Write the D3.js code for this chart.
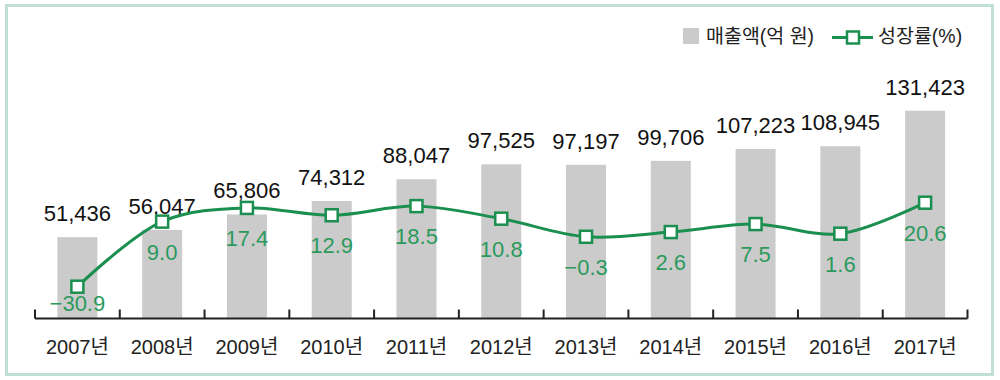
<!DOCTYPE html>
<html>
<head>
<meta charset="utf-8">
<script src="https://cdn.jsdelivr.net/npm/d3@7"></script>
<style>
  body { margin: 0; background: #fff; }
  text { font-family: "Liberation Sans", "Noto Sans CJK KR", sans-serif; }
</style>
</head>
<body>
<div id="chart"></div>
<script>
// data
let years = ["2007년", "2008년", "2009년", "2010년", "2011년", "2012년", "2013년", "2014년", "2015년", "2016년", "2017년"];
let sales = [51436, 56047, 65806, 74312, 88047, 97525, 97197, 99706, 107223, 108945, 131423];
let growth = [-30.9, 9.0, 17.4, 12.9, 18.5, 10.8, -0.3, 2.6, 7.5, 1.6, 20.6];
let legendNames = ["매출액(억 원)", "성장률(%)"];

const green = "#1b8f4f";
const labelGreen = "#2b9a5c";
const barGray = "#cbcbcb";

let svg = d3.select("#chart").append("svg")
    .attr("width", 1000)
    .attr("height", 380);

// outer frame
svg.append("rect")
    .attr("x", 6.5).attr("y", 5.5)
    .attr("width", 986).attr("height", 369)
    .attr("fill", "none")
    .attr("stroke", "#bfe0d2")
    .attr("stroke-width", 3);

let x = d3.scaleBand().domain(years).range([35, 967.5]);
let yBar = d3.scaleLinear().domain([0, 131423]).range([318.5, 110.7]);
let yLine = d3.scaleLinear().domain([-30.9, 20.6]).range([286.7, 202.7]);

// bars
svg.selectAll(".bar").data(sales).enter().append("rect")
    .attr("class", "bar")
    .attr("x", (d, i) => x(years[i]) + x.bandwidth() / 2 - 20)
    .attr("width", 40)
    .attr("y", d => yBar(d))
    .attr("height", d => yBar(0) - yBar(d))
    .attr("fill", barGray);

svg.selectAll(".barLabel").data(sales).enter().append("text")
    .attr("class", "barLabel")
    .attr("x", (d, i) => x(years[i]) + x.bandwidth() / 2)
    .attr("y", d => yBar(d) - 16)
    .attr("text-anchor", "middle")
    .attr("font-size", 22)
    .attr("fill", "#111")
    .text(d => d3.format(",")(d));

// x axis
let axis = svg.append("g").attr("transform", "translate(0,318.5)");
axis.append("line")
    .attr("x1", 35).attr("x2", 967.5)
    .attr("stroke", "#222").attr("stroke-width", 2);
let tickPos = years.map(d => x(d)).concat([x.range()[1]]);
axis.selectAll(".tick").data(tickPos).enter().append("line")
    .attr("x1", d => d).attr("x2", d => d)
    .attr("y1", 0).attr("y2", -9)
    .attr("stroke", "#222").attr("stroke-width", 2);
axis.selectAll(".yearLabel").data(years).enter().append("text")
    .attr("x", d => x(d) + x.bandwidth() / 2)
    .attr("y", 35.5)
    .attr("text-anchor", "middle")
    .attr("font-size", 20)
    .attr("fill", "#222")
    .text(d => d);

// growth line
let line = d3.line()
    .x((d, i) => x(years[i]) + x.bandwidth() / 2)
    .y(d => yLine(d))
    .curve(d3.curveCatmullRom.alpha(0.5));

svg.append("path")
    .datum(growth)
    .attr("d", line)
    .attr("fill", "none")
    .attr("stroke", green)
    .attr("stroke-width", 3);

svg.selectAll(".marker").data(growth).enter().append("rect")
    .attr("x", (d, i) => x(years[i]) + x.bandwidth() / 2 - 6)
    .attr("y", d => yLine(d) - 6)
    .attr("width", 12).attr("height", 12)
    .attr("fill", "#fff")
    .attr("stroke", green)
    .attr("stroke-width", 2.5);

svg.selectAll(".growthLabel").data(growth).enter().append("text")
    .attr("x", (d, i) => x(years[i]) + x.bandwidth() / 2)
    .attr("y", (d, i) => yLine(d) + (i == 0 ? 24 : 38))
    .attr("text-anchor", "middle")
    .attr("font-size", 22)
    .attr("fill", labelGreen)
    .text(d => d < 0 ? "\u2212" + d3.format(".1f")(-d) : d3.format(".1f")(d));

// legend
let legend = svg.append("g");
legend.append("rect")
    .attr("x", 683).attr("y", 28)
    .attr("width", 16).attr("height", 16)
    .attr("fill", barGray);
legend.append("text")
    .attr("x", 706).attr("y", 43)
    .attr("font-size", 19.5)
    .attr("fill", "#222")
    .text(legendNames[0]);
legend.append("line")
    .attr("x1", 832).attr("x2", 873)
    .attr("y1", 37.5).attr("y2", 37.5)
    .attr("stroke", green).attr("stroke-width", 3);
legend.append("rect")
    .attr("x", 847).attr("y", 31.5)
    .attr("width", 12).attr("height", 12)
    .attr("fill", "#fff")
    .attr("stroke", green).attr("stroke-width", 2.5);
legend.append("text")
    .attr("x", 878).attr("y", 43)
    .attr("font-size", 19.5)
    .attr("fill", "#222")
    .text(legendNames[1]);
</script>
</body>
</html>
